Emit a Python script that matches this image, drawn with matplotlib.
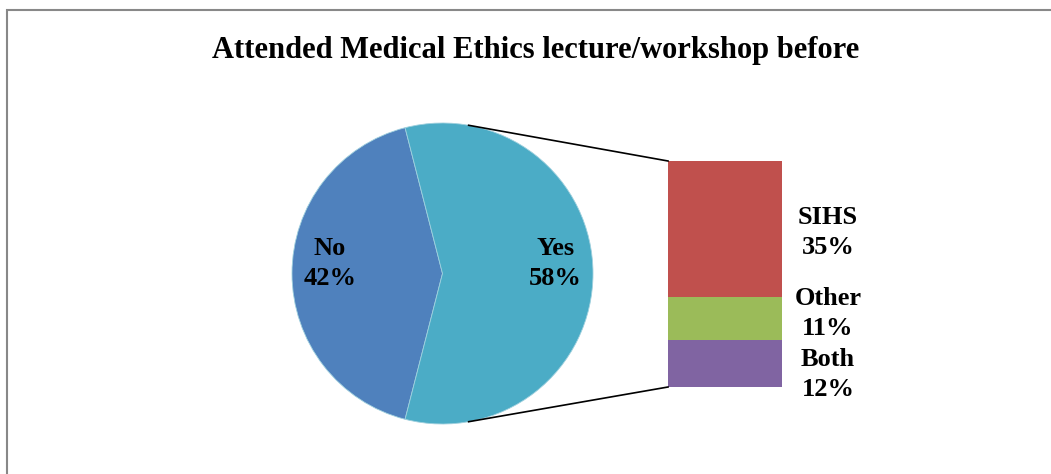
import numpy as np
import matplotlib
matplotlib.use("Agg")
import matplotlib.pyplot as plt
from matplotlib.patches import Rectangle

# data
pie_labels = ["No", "Yes"]
pie_values = [42, 58]
pie_colors = ["#4F81BD", "#4BACC6"]

bar_labels = ["SIHS", "Other", "Both"]
bar_values = [35, 11, 12]
bar_colors = ["#C0504D", "#9BBB59", "#8064A2"]

W, H = 1051, 474
plt.rcParams['font.family'] = ['Liberation Serif', 'DejaVu Serif']

fig = plt.figure(figsize=(W / 100, H / 100), dpi=100)
ax = fig.add_axes([0, 0, 1, 1])

# pie, "Yes" slice centred on the right side
cx, cy, R = 442.5, 200.5, 150.5
start = 180 * pie_values[1] / 100.0
wedges, _ = ax.pie(pie_values, colors=pie_colors, startangle=start,
                   center=(cx, cy), radius=R, frame=True,
                   wedgeprops=dict(linewidth=0.6, edgecolor='#9fd0de'))
ax.set_xlim(0, W)
ax.set_ylim(0, H)
ax.set_aspect('equal')
ax.axis('off')

for w, lab, v in zip(wedges, pie_labels, pie_values):
    mid = np.deg2rad((w.theta1 + w.theta2) / 2)
    x = cx + 0.75 * R * np.cos(mid)
    y = cy + 0.75 * R * np.sin(mid) + 10
    ax.text(x, y, f"{lab}\n{v}%", ha='center', va='center',
            fontsize=19, fontweight='bold', linespacing=1.4)

# stacked bar of the "Yes" part
bar_left, bar_w, bar_bottom = 668, 114, 87
scale = 226.0 / sum(bar_values)
bottom = bar_bottom
label_shift = {"SIHS": -3.5, "Other": 5, "Both": -11}
segs = []
for lab, v, c in zip(bar_labels[::-1], bar_values[::-1], bar_colors[::-1]):
    ax.bar(bar_left + bar_w / 2, v * scale, width=bar_w, bottom=bottom,
           color=c, edgecolor='none')
    segs.append((lab, v, bottom + v * scale / 2))
    bottom += v * scale
bar_top = bottom

for lab, v, ymid in segs:
    ax.text(bar_left + bar_w + 46, ymid + label_shift[lab], f"{lab}\n{v}%",
            ha='center', va='center', fontsize=19, fontweight='bold',
            linespacing=1.4)

# connector lines
a = np.deg2rad(80)
ax.plot([cx + R * np.cos(a), bar_left], [cy + R * np.sin(a), bar_top],
        color='black', lw=1.2)
ax.plot([cx + R * np.cos(-a), bar_left], [cy + R * np.sin(-a), bar_bottom],
        color='black', lw=1.2)

ax.text(536, H - 58, "Attended Medical Ethics lecture/workshop before",
        ha='center', va='baseline', fontsize=22, fontweight='bold')

# chart border (cut off at right and bottom)
fig.add_artist(Rectangle((7 / W, -0.1), 1.2, (H - 10) / H + 0.1,
                         transform=fig.transFigure, fill=False,
                         edgecolor='#888888', lw=1.5))

plt.savefig("out.png", dpi=100)
